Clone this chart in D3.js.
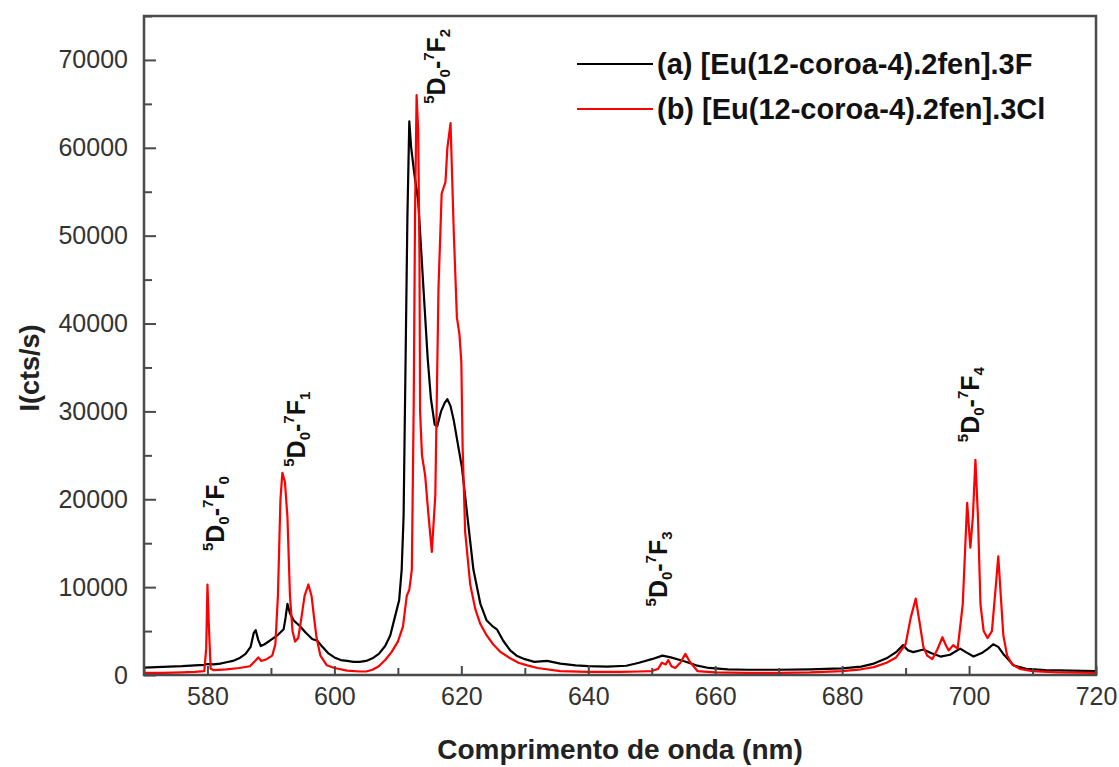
<!DOCTYPE html>
<html>
<head>
<meta charset="utf-8">
<script src="https://cdn.jsdelivr.net/npm/d3@7"></script>
<style>
  html, body { margin: 0; padding: 0; background: #fff; }
  svg { display: block; }
  text { font-family: "Liberation Sans", Arial, sans-serif; }
</style>
</head>
<body>
<svg id="chart" width="1119" height="767"></svg>
<script>
// ---------------- DATA ----------------
const xTicks = [580, 600, 620, 640, 660, 680, 700, 720];
const yTicks = [0, 10000, 20000, 30000, 40000, 50000, 60000, 70000];

const seriesNames = ["(a) [Eu(12-coroa-4).2fen].3F", "(b) [Eu(12-coroa-4).2fen].3Cl"];
const seriesColors = ["#000000", "#ff0000"];

// (a) black spectrum: wavelength (nm) and intensity (cts/s)
const wlA = [570,572,574,576,578,579.5,580,581,582,583,584,585,586,586.8,587.3,587.6,588,588.4,589,590,591,592,592.3,592.6,593,593.6,594.5,595.5,596.5,597.3,598,599,600,601,602,603,604,605,606,607,608,608.8,609.5,610.2,610.6,610.9,611.2,611.5,611.8,612.1,612.6,613.2,613.7,614.2,614.7,615.2,615.8,616.2,616.8,617.4,617.8,618.3,618.8,619.4,620.1,620.9,621.9,623,624,625,625.6,626.6,627.7,628.7,630,631.5,633.5,635.6,638,640,643,646,648,650,651.7,653,655,657,659,662,665,670,675,680,683,685,687,688.5,689.6,690.4,691.2,692.8,694,695.5,697,698.6,699.5,700.7,702,703,703.8,704.6,705.5,707,709,712,716,720];
const intA = [850,900,950,1000,1100,1150,1250,1200,1300,1450,1600,1900,2400,3200,4800,5100,4000,3300,3500,4000,4500,5200,6500,8100,7000,6200,5600,4800,4100,3900,3300,2500,2000,1700,1600,1500,1500,1600,1900,2400,3300,4500,6500,8500,12000,18000,35000,52000,63000,60000,57000,54000,48000,42000,36000,31500,28500,28300,30000,31000,31400,30600,29000,26500,23600,18400,12000,8100,6200,5500,5200,3900,2800,2200,1800,1500,1600,1300,1100,1000,950,1050,1400,1800,2200,2000,1600,1100,800,650,600,600,650,750,950,1300,1900,2600,3400,2800,2600,2900,2500,2100,2300,3000,2600,2100,2500,3000,3500,3200,2300,1100,700,550,500,450];

// (b) red spectrum: wavelength (nm) and intensity (cts/s)
const wlB = [570,573,576,578,579.5,579.8,580,580.2,580.5,581,583,585,586.7,587.5,588,588.5,589.3,590.2,590.7,591.1,591.5,591.8,592.2,592.6,593,593.4,593.8,594.3,594.8,595.3,595.9,596.4,596.8,597.2,597.8,598.8,600,602,604,605,606,607,608,609,610,610.8,611.4,611.8,612.2,612.5,612.7,612.95,613.2,613.4,613.5,613.8,614.3,614.8,615.35,615.9,616.4,616.9,617.5,617.8,618.3,618.8,619.3,619.7,620,620.2,620.6,621.4,622.2,623,624,625,626.2,627.7,629,630.4,632,635.6,640,645,648,650,651,651.6,652.2,652.6,653.1,653.7,654.5,655.3,656,657.2,660,665,670,675,680,683,685,687,688.5,690,690.8,691.6,692.2,692.8,693.4,694.2,695,695.8,696.4,696.8,697.5,698.2,699,699.7,700.2,700.6,701,701.4,701.8,702.3,702.9,703.6,704.2,704.6,705,705.4,706,706.8,708,710,714,720];
const intB = [250,250,300,350,450,3000,10300,6000,700,550,650,800,1000,1600,2000,1600,1800,2200,3500,9000,20000,23000,22000,18000,9000,5000,3800,4200,6500,9000,10300,9000,6500,4200,2200,1100,800,500,400,400,600,1000,1700,2600,3800,5500,9000,9700,12000,31000,52000,66000,62000,48000,30000,25000,22700,18400,14000,20500,44000,54800,56100,60000,62800,50600,40700,38800,35600,26000,16300,10300,7500,5800,4500,3500,2600,1900,1400,1100,800,450,350,350,400,450,700,1400,1200,1700,1000,800,1400,2400,1500,450,300,250,250,300,450,650,900,1400,2000,3500,6500,8700,6000,3200,2200,1800,2900,4300,3300,2800,3400,3000,8000,19600,14500,18000,24500,18000,8000,5000,4200,5000,10000,13500,9000,4500,2200,1200,700,450,300,250];

// transition labels: [subscript of F, wavelength position, intensity position]
const transLabelsF = ["0", "1", "2", "3", "4"];
const transLabelWl = [582.6, 595.3, 617.5, 652.4, 701.6];
const transLabelInt = [14100, 23700, 65000, 7800, 26500];

// ---------------- LAYOUT ----------------
const svg = d3.select("#chart");
const margin = { left: 144, top: 16, right: 1096, bottom: 675 };
const x = d3.scaleLinear().domain([570, 720]).range([margin.left, margin.right]);
const y = d3.scaleLinear().domain([0, 75000]).range([margin.bottom, margin.top]);

svg.append("defs").append("clipPath").attr("id", "clip")
  .append("rect").attr("x", margin.left).attr("y", margin.top)
  .attr("width", margin.right - margin.left).attr("height", margin.bottom - margin.top);

// Series lines
const line = d3.line().x(d => x(d[0])).y(d => y(d[1])).curve(d3.curveLinear);
const dataA = wlA.map((w, i) => [w, intA[i]]);
const dataB = wlB.map((w, i) => [w, intB[i]]);
const gLines = svg.append("g").attr("clip-path", "url(#clip)");
gLines.append("path").datum(dataA).attr("d", line)
  .attr("fill", "none").attr("stroke", seriesColors[0]).attr("stroke-width", 2.2).attr("stroke-linejoin", "round");
gLines.append("path").datum(dataB).attr("d", line)
  .attr("fill", "none").attr("stroke", seriesColors[1]).attr("stroke-width", 2.2).attr("stroke-linejoin", "round");

// Axes (ticks pointing inward)
const axisColor = "#4a4a4a";
const xMinor = d3.range(570, 721, 10).filter(v => !xTicks.includes(v));
const yMinor = d3.range(5000, 75001, 10000);

const gx = svg.append("g").attr("transform", `translate(0,${margin.bottom})`)
  .call(d3.axisBottom(x).tickValues(xTicks).tickSize(-9).tickPadding(0).tickFormat(d3.format("d")));
gx.select(".domain").remove();
gx.selectAll(".tick line").attr("stroke", axisColor).attr("stroke-width", 2);
gx.selectAll(".tick text").attr("font-size", 25).attr("fill", "#333")
  .attr("font-family", "'Liberation Sans', Arial, sans-serif").attr("dy", "1.2em");
const gxm = svg.append("g").attr("transform", `translate(0,${margin.bottom})`)
  .call(d3.axisBottom(x).tickValues(xMinor).tickSize(-7).tickFormat(""));
gxm.select(".domain").remove();
gxm.selectAll(".tick line").attr("stroke", axisColor).attr("stroke-width", 2);

const gy = svg.append("g").attr("transform", `translate(${margin.left},0)`)
  .call(d3.axisLeft(y).tickValues(yTicks).tickSize(-12).tickPadding(16).tickFormat(d3.format("d")));
gy.select(".domain").remove();
gy.selectAll(".tick line").attr("stroke", axisColor).attr("stroke-width", 2);
gy.selectAll(".tick text").attr("font-size", 25).attr("fill", "#333")
  .attr("font-family", "'Liberation Sans', Arial, sans-serif");
const gym = svg.append("g").attr("transform", `translate(${margin.left},0)`)
  .call(d3.axisLeft(y).tickValues(yMinor).tickSize(-8).tickFormat(""));
gym.select(".domain").remove();
gym.selectAll(".tick line").attr("stroke", axisColor).attr("stroke-width", 2);

// Frame
svg.append("rect").attr("x", margin.left).attr("y", margin.top)
  .attr("width", margin.right - margin.left).attr("height", margin.bottom - margin.top)
  .attr("fill", "none").attr("stroke", axisColor).attr("stroke-width", 2.5);

// Axis titles
svg.append("text").attr("x", 620).attr("y", 759)
  .attr("text-anchor", "middle").attr("font-size", 28).attr("font-weight", "bold").attr("fill", "#222")
  .text("Comprimento de onda (nm)");
svg.append("text").attr("transform", `translate(39,368) rotate(-90)`)
  .attr("text-anchor", "middle").attr("font-size", 27).attr("font-weight", "bold").attr("fill", "#222")
  .text("I(cts/s)");

// Legend
const legY = [64, 109];
seriesNames.forEach((name, i) => {
  svg.append("line").attr("x1", 577).attr("x2", 653).attr("y1", legY[i]).attr("y2", legY[i])
    .attr("stroke", seriesColors[i]).attr("stroke-width", 2);
  svg.append("text").attr("x", 657).attr("y", legY[i] + 10).attr("font-size", 29)
    .attr("font-weight", "bold").attr("fill", "#111").text(name);
});

// Transition labels (rotated)
transLabelsF.forEach((f, i) => {
  const t = svg.append("text")
    .attr("transform", `translate(${x(transLabelWl[i])},${y(transLabelInt[i])}) rotate(-90)`)
    .attr("font-size", 25).attr("font-weight", "bold").attr("fill", "#111");
  t.append("tspan").attr("font-size", 15).attr("dy", -11).text("5");
  t.append("tspan").attr("dy", 11).text("D");
  t.append("tspan").attr("font-size", 15).attr("dy", 5).text("0");
  t.append("tspan").attr("dy", -5).text("-");
  t.append("tspan").attr("font-size", 15).attr("dy", -11).text("7");
  t.append("tspan").attr("dy", 11).text("F");
  t.append("tspan").attr("font-size", 15).attr("dy", 5).text(f);
});
</script>
</body>
</html>
